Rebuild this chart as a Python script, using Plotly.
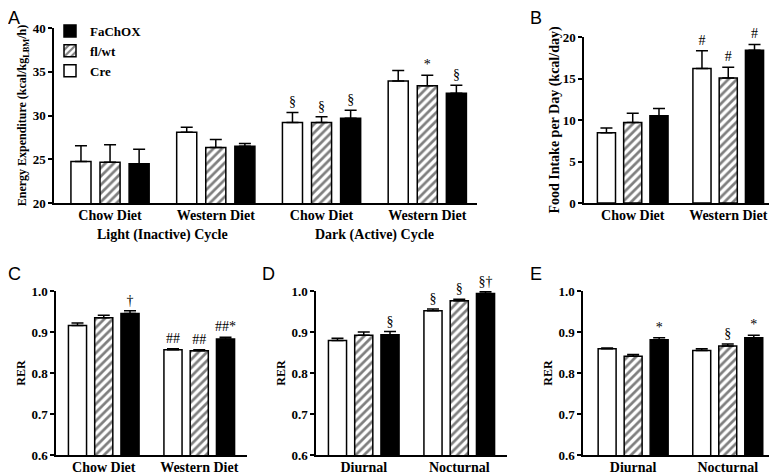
import plotly.graph_objects as go

# the page body keeps its default 8px margin, so the figure is drawn 8px in from the corner
PAGE_W, PAGE_H, OFF = 777, 475, 8
W, H = PAGE_W - OFF, PAGE_H - OFF
SERIF = "Liberation Serif"
SANS = "Liberation Sans"

GENOTYPES = ["Cre", "fl/wt", "FaChOX"]

# A - energy expenditure, light and dark cycle
ee_x = [0, 1, 2, 3]
ee_diets = ["Chow Diet", "Western Diet", "Chow Diet", "Western Diet"]
ee_cycles = ["Light (Inactive) Cycle", "Dark (Active) Cycle"]
ee_cycle_x = [0.5, 2.5]
ee_mean = {
    "Cre": [24.75, 28.1, 29.2, 33.95],
    "fl/wt": [24.65, 26.35, 29.2, 33.4],
    "FaChOX": [24.5, 26.5, 29.7, 32.55],
}
ee_err = {
    "Cre": [1.8, 0.55, 1.15, 1.2],
    "fl/wt": [2.0, 0.9, 0.65, 1.2],
    "FaChOX": [1.65, 0.3, 0.9, 0.9],
}
ee_sig = {
    "Cre": ["", "", "§", ""],
    "fl/wt": ["", "", "§", "*"],
    "FaChOX": ["", "", "§", "§"],
}

# B - food intake
fi_x = [0, 1]
fi_diets = ["Chow Diet", "Western Diet"]
fi_mean = {"Cre": [8.45, 16.2], "fl/wt": [9.7, 15.05], "FaChOX": [10.5, 18.4]}
fi_err = {"Cre": [0.6, 2.15], "fl/wt": [1.1, 1.3], "FaChOX": [0.9, 0.7]}
fi_sig = {"Cre": ["", "#"], "fl/wt": ["", "#"], "FaChOX": ["", "#"]}

# C - RER by diet
rc_x = [0, 1]
rc_cats = ["Chow Diet", "Western Diet"]
rc_mean = {"Cre": [0.916, 0.857], "fl/wt": [0.935, 0.854], "FaChOX": [0.945, 0.883]}
rc_err = {"Cre": [0.006, 0.002], "fl/wt": [0.006, 0.003], "FaChOX": [0.007, 0.004]}
rc_sig = {"Cre": ["", "##"], "fl/wt": ["", "##"], "FaChOX": ["†", "##*"]}

# D - RER, diurnal / nocturnal
rd_x = [0, 1]
rd_cats = ["Diurnal", "Nocturnal"]
rd_mean = {"Cre": [0.879, 0.952], "fl/wt": [0.892, 0.976], "FaChOX": [0.893, 0.994]}
rd_err = {"Cre": [0.006, 0.004], "fl/wt": [0.008, 0.004], "FaChOX": [0.008, 0.004]}
rd_sig = {"Cre": ["", "§"], "fl/wt": ["", "§"], "FaChOX": ["§", "§†"]}

# E - RER, diurnal / nocturnal
re_x = [0, 1]
re_cats = ["Diurnal", "Nocturnal"]
re_mean = {"Cre": [0.859, 0.855], "fl/wt": [0.841, 0.866], "FaChOX": [0.881, 0.886]}
re_err = {"Cre": [0.002, 0.004], "fl/wt": [0.004, 0.005], "FaChOX": [0.005, 0.006]}
re_sig = {"Cre": ["", ""], "fl/wt": ["", "§"], "FaChOX": ["*", "*"]}

_FILL = {
    "Cre": dict(color="white"),
    "fl/wt": dict(color="white", pattern=dict(shape="/", fgcolor="black", bgcolor="white",
                                              size=6, solidity=0.45)),
    "FaChOX": dict(color="black"),
}

_XTICKFONT = dict(family=SERIF, size=14, color="black", weight="bold")
_YTICKFONT = dict(family=SERIF, size=13, color="black", weight="bold")
_SIGFONT = dict(family=SERIF, size=14, color="black")


def add_panel(fig, xa, ya, xs, means, errs, sigs, legend=False):
    for g in GENOTYPES:
        fig.add_trace(go.Bar(
            x=xs, y=means[g], name=g, offsetgroup=g, xaxis=xa, yaxis=ya,
            marker=dict(**_FILL[g], line=dict(color="black", width=1.5)),
            error_y=dict(type="data", array=errs[g], arrayminus=[0] * len(xs), symmetric=False,
                         color="black", thickness=1.5, width=6),
            showlegend=legend, hoverinfo="skip",
        ))
    # significance marks sit on invisible bars that end at the error-bar cap
    for g in GENOTYPES:
        fig.add_trace(go.Bar(
            x=xs, y=[m + e for m, e in zip(means[g], errs[g])], offsetgroup=g,
            xaxis=xa, yaxis=ya, text=sigs[g], textposition="outside",
            textfont=_SIGFONT, outsidetextfont=_SIGFONT,
            constraintext="none", cliponaxis=False,
            marker=dict(color="rgba(0,0,0,0)", line=dict(width=0)),
            showlegend=False, hoverinfo="skip",
        ))


def px_x(p):
    return (p - OFF) / W


def px_y(p):
    return 1 - (p - OFF) / H


def xdom(a, b):
    return [px_x(a), px_x(b)]


def ydom(top, bottom):
    return [px_y(bottom), px_y(top)]


def yaxis(dom, xa, rng, dtick, title, standoff, tsize, fmt=None):
    return dict(domain=dom, anchor=xa, range=rng, dtick=dtick, tickformat=fmt, automargin=False,
                showline=True, linecolor="black", linewidth=1.5, showgrid=False, zeroline=False,
                ticks="outside", ticklen=4, tickwidth=1.5, tickcolor="black", tickfont=_YTICKFONT,
                title=dict(text=title, standoff=standoff,
                           font=dict(family=SERIF, size=tsize, color="black", weight="bold")))


def xaxis(dom, ya, vals, text, rng):
    return dict(domain=dom, anchor=ya, range=rng, tickmode="array", tickvals=vals, ticktext=text,
                automargin=False, showline=True, linecolor="black", linewidth=1.5,
                showgrid=False, zeroline=False, ticks="", tickfont=_XTICKFONT,
                ticklabelstandoff=-2)


fig = go.Figure()
add_panel(fig, "x", "y", ee_x, ee_mean, ee_err, ee_sig, legend=True)
add_panel(fig, "x2", "y2", fi_x, fi_mean, fi_err, fi_sig)
add_panel(fig, "x3", "y3", rc_x, rc_mean, rc_err, rc_sig)
add_panel(fig, "x4", "y4", rd_x, rd_mean, rd_err, rd_sig)
add_panel(fig, "x5", "y5", re_x, re_mean, re_err, re_sig)

rer_dom = ydom(291, 455)
fig.update_layout(
    width=W, height=H, margin=dict(l=0, r=0, t=0, b=0, autoexpand=False),
    paper_bgcolor="white", plot_bgcolor="white",
    barmode="group", bargap=0.175, bargroupgap=0.31,
    font=dict(family=SERIF, color="black"),
    xaxis=xaxis(xdom(54, 477), "y", ee_x, ee_diets, [-0.53, 3.47]),
    yaxis=yaxis(ydom(28, 203), "x", [20, 40], 5,
                "Energy Expenditure (kcal/kg<sub>LBM</sub>/h)", 3, 12),
    xaxis2=xaxis(xdom(584, 776), "y2", fi_x, fi_diets, [-0.51, 1.5]),
    yaxis2=yaxis(ydom(37, 203), "x2", [0, 20], 5, "Food Intake per Day (kcal/day)", 0, 14),
    xaxis3=xaxis(xdom(56, 247), "y3", rc_x, rc_cats, [-0.5, 1.5]),
    yaxis3=yaxis(rer_dom, "x3", [0.6, 1.0], 0.1, "RER", 3, 12, ".1f"),
    xaxis4=xaxis(xdom(316, 507), "y4", rd_x, rd_cats, [-0.5, 1.5]),
    yaxis4=yaxis(rer_dom, "x4", [0.6, 1.0], 0.1, "RER", 3, 12, ".1f"),
    xaxis5=xaxis(xdom(583, 776), "y5", re_x, re_cats, [-0.53, 1.51]),
    yaxis5=yaxis(rer_dom, "x5", [0.6, 1.0], 0.1, "RER", 3, 12, ".1f"),
    legend=dict(x=px_x(50), y=px_y(16), xanchor="left", yanchor="top", traceorder="reversed",
                bgcolor="rgba(0,0,0,0)", borderwidth=0, tracegroupgap=0,
                font=dict(family=SERIF, size=13, color="black", weight="bold")),
)

for name, x in zip(ee_cycles, ee_cycle_x):
    fig.add_annotation(text=name, x=x, xref="x", y=px_y(235), yref="paper",
                       showarrow=False, yanchor="middle",
                       font=dict(family=SERIF, size=14, color="black", weight="bold"))

for letter, px, py in [("A", 8, 8), ("B", 530, 8), ("C", 8, 264), ("D", 262, 264), ("E", 530, 264)]:
    fig.add_annotation(text=letter, x=px_x(px), y=px_y(py), xref="paper", yref="paper",
                       xanchor="left", yanchor="top", showarrow=False, borderpad=0, borderwidth=0,
                       font=dict(family=SANS, size=18, color="black"))

fig.write_html("out.html")
